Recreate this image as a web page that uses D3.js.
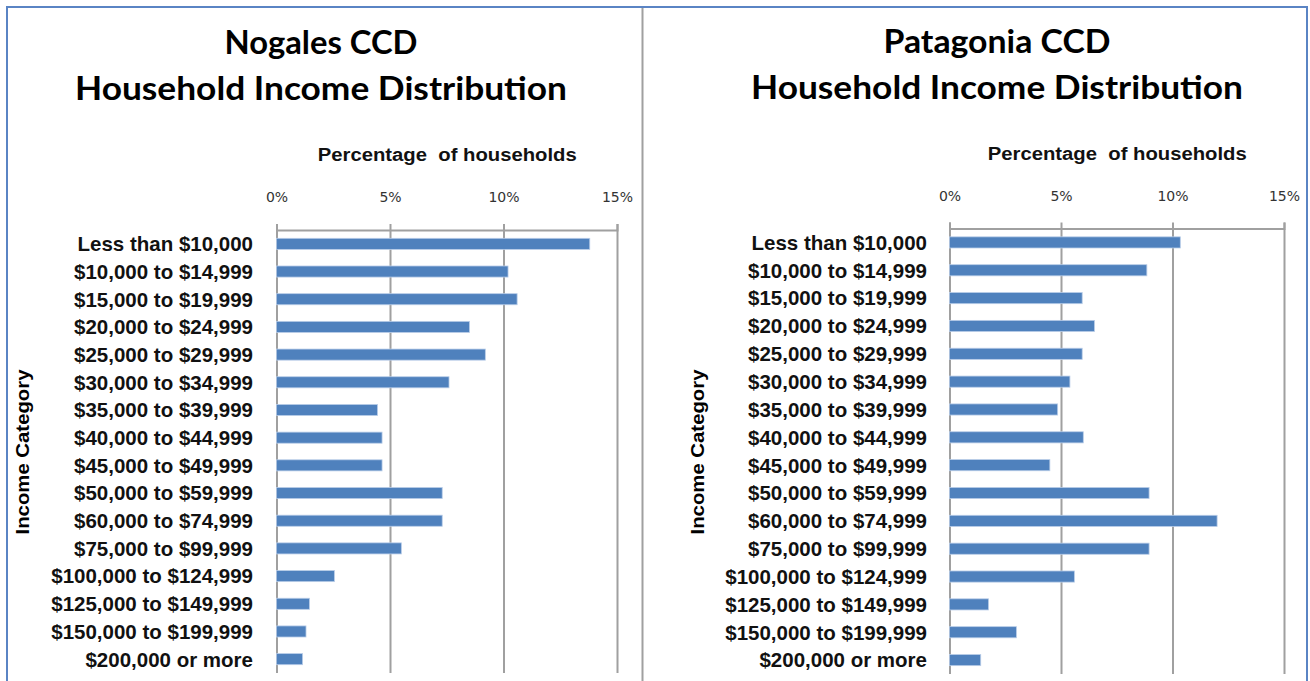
<!DOCTYPE html>
<html>
<head>
<meta charset="utf-8">
<script src="https://cdn.jsdelivr.net/npm/d3@7"></script>
<style>
  body { margin: 0; background: #fff; }
  svg { display: block; }
</style>
</head>
<body>
<script>
// income categories, top to bottom
const categories = [
    'Less than $10,000', '$10,000 to $14,999', '$15,000 to $19,999', '$20,000 to $24,999',
    '$25,000 to $29,999', '$30,000 to $34,999', '$35,000 to $39,999', '$40,000 to $44,999',
    '$45,000 to $49,999', '$50,000 to $59,999', '$60,000 to $74,999', '$75,000 to $99,999',
    '$100,000 to $124,999', '$125,000 to $149,999', '$150,000 to $199,999', '$200,000 or more'
];
// percentage of households
const nogalesValues = [13.8, 10.2, 10.6, 8.5, 9.2, 7.6, 4.45, 4.65, 4.65, 7.3, 7.3, 5.5, 2.55, 1.45, 1.3, 1.15];
const patagoniaValues = [10.35, 8.85, 5.95, 6.5, 5.95, 5.4, 4.85, 6.0, 4.5, 8.95, 12.0, 8.95, 5.6, 1.75, 3.0, 1.4];
const xTicks = [0, 5, 10, 15];
const titles = ['Nogales CCD', 'Patagonia CCD'];

document.addEventListener("DOMContentLoaded", () => {

    const width = 1310;
    const height = 681;

    const svg = d3.select('body')
        .append('svg')
        .attr('width', width)
        .attr('height', height);

    // outer frame + divider
    svg.append('rect')
        .attr('x', 7).attr('y', 7)
        .attr('width', 1300).attr('height', 690)
        .attr('fill', 'none')
        .attr('stroke', '#5a84c4')
        .attr('stroke-width', 2);
    svg.append('line')
        .attr('x1', 642.5).attr('x2', 642.5)
        .attr('y1', 8).attr('y2', height)
        .attr('stroke', '#a0a0a0')
        .attr('stroke-width', 2);

    drawPanel({ title: titles[0], values: nogalesValues, cx: 321, x0: 276.5, x1: 617, top: 230, bottom: 673, labelX: 253, catTitleX: 22, dy: 0 });
    drawPanel({ title: titles[1], values: patagoniaValues, cx: 997, x0: 949.5, x1: 1284, top: 228.5, bottom: 674, labelX: 927, catTitleX: 697, dy: -1.5 });

    function drawPanel(p) {
        const g = svg.append('g');

        const x = d3.scaleLinear().domain([0, 15]).range([p.x0, p.x1]);
        const y = d3.scaleBand().domain(categories).range([p.top, p.bottom]).paddingInner(0.6).paddingOuter(0.3);

        // titles
        g.append('text')
            .attr('x', p.cx).attr('y', 54 + p.dy)
            .attr('text-anchor', 'middle')
            .attr('font-family', 'Lato')
            .attr('font-weight', 700)
            .attr('font-size', 33)
            .attr('textLength', p.title.length > 12 ? 227 : 193)
            .attr('lengthAdjust', 'spacingAndGlyphs')
            .text(p.title);
        g.append('text')
            .attr('x', p.cx).attr('y', 100 + p.dy)
            .attr('text-anchor', 'middle')
            .attr('font-family', 'Lato')
            .attr('font-weight', 700)
            .attr('font-size', 33)
            .attr('textLength', 492)
            .attr('lengthAdjust', 'spacingAndGlyphs')
            .text('Household Income Distribution');

        // x axis title (double space kept as in the original)
        g.append('text')
            .attr('x', (p.x0 + p.x1) / 2 + 0.5).attr('y', 161 + p.dy)
            .attr('text-anchor', 'middle')
            .attr('font-family', 'Liberation Sans, Arial')
            .attr('font-size', 18)
            .attr('font-weight', 700)
            .attr('fill', '#111')
            .style('white-space', 'pre')
            .attr('textLength', 259)
            .attr('lengthAdjust', 'spacingAndGlyphs')
            .text('Percentage  of households');

        // gridlines
        const grid = g.append('g')
            .attr('transform', `translate(0,${p.top})`)
            .call(d3.axisTop(x).tickValues(xTicks).tickSize(-(p.bottom - p.top)).tickFormat(''));
        grid.select('.domain').remove();
        grid.selectAll('line').attr('stroke', '#a0a0a0').attr('stroke-width', 2);

        // top axis
        const axis = g.append('g')
            .attr('transform', `translate(0,${p.top})`)
            .call(d3.axisTop(x).tickValues(xTicks).tickSize(6).tickPadding(22).tickFormat(d => d + '%'));
        axis.select('.domain').attr('stroke', '#a0a0a0').attr('stroke-width', 2);
        axis.selectAll('line').attr('stroke', '#a0a0a0').attr('stroke-width', 2);
        axis.selectAll('text')
            .attr('font-family', 'DejaVu Sans, Verdana')
            .attr('font-size', 14)
            .attr('fill', '#333');

        // bars
        g.selectAll('rect.bar')
            .data(p.values)
            .enter()
            .append('rect')
            .attr('class', 'bar')
            .attr('x', x(0))
            .attr('y', (d, i) => y(categories[i]))
            .attr('width', d => x(d) - x(0))
            .attr('height', y.bandwidth())
            .attr('fill', '#4f81bd')
            .attr('stroke', '#b9cde8')
            .attr('stroke-width', 0.8);

        // category labels
        g.selectAll('text.cat')
            .data(categories)
            .enter()
            .append('text')
            .attr('class', 'cat')
            .attr('x', p.labelX)
            .attr('y', d => y(d) + y.bandwidth() / 2)
            .attr('dy', '0.36em')
            .attr('text-anchor', 'end')
            .attr('font-family', 'Liberation Sans, Arial')
            .attr('font-weight', 700)
            .attr('font-size', 20.5)
            .attr('fill', '#111')
            .text(d => d);

        // y axis title
        g.append('text')
            .attr('transform', `translate(${p.catTitleX + 7},452) rotate(-90)`)
            .attr('text-anchor', 'middle')
            .attr('font-family', 'Liberation Sans, Arial')
            .attr('font-weight', 700)
            .attr('font-size', 19)
            .attr('textLength', 165)
            .attr('lengthAdjust', 'spacingAndGlyphs')
            .text('Income Category');
    }
});
</script>
</body>
</html>
